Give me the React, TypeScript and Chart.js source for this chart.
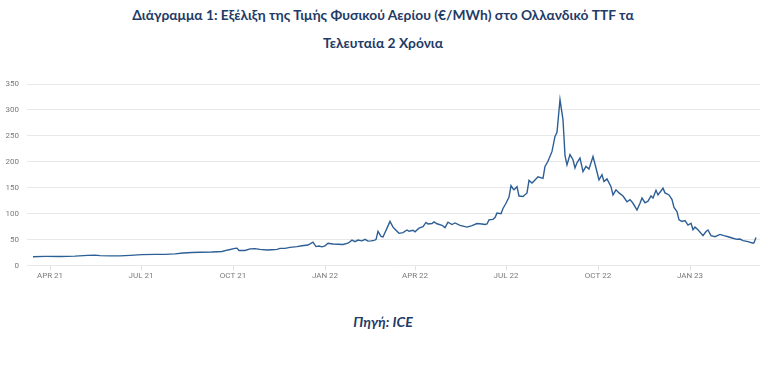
import React, { useEffect, useRef } from "react";
import { Chart, registerables } from "chart.js";

Chart.register(...registerables);

// Days since 2021-04-01 for each observation
const dayOffsets: number[] = [
  -17, -5, 10, 25, 38, 45, 50, 60, 70, 80, 92, 105, 115, 125, 133, 142, 150, 162, 172, 178,
  185, 187, 189, 195, 200, 205, 210, 217, 222, 227, 230, 235, 240, 247, 252, 258, 263, 266, 269, 272,
  275, 278, 283, 288, 293, 298, 302, 305, 308, 312, 315, 318, 321, 324, 326, 328, 331, 333, 337, 340,
  343, 345, 349, 353, 357, 359, 363, 365, 369, 373, 376, 378, 382, 384, 387, 392, 395, 398, 402, 405,
  410, 417, 422, 427, 432, 435, 437, 439, 443, 445, 447, 451, 453, 456, 459, 461, 463, 464, 467, 469,
  473, 477, 479, 482, 485, 488, 493, 495, 498, 502, 505, 507, 510, 513, 515, 517, 520, 523, 525, 527,
  530, 533, 536, 539, 543, 546, 549, 552, 554, 557, 561, 563, 566, 569, 573, 577, 580, 583, 587, 590,
  592, 595, 598, 601, 603, 606, 608, 613, 615, 619, 622, 624, 627, 629, 632, 635, 638, 641, 643, 645,
  648, 653, 656, 658, 661, 665, 670, 674, 678, 683, 687, 690, 693, 698, 703, 704, 706,
];

// TTF price, €/MWh
const prices: number[] = [
  17, 17.5, 17.5, 18, 19.5, 20, 19, 18.5, 18.5, 19.5, 21, 21.5, 21.5, 22.5, 24, 25, 25.5, 26, 27, 30,
  33, 33.5, 29, 29, 32, 32.5, 31, 30, 30.5, 31, 33, 33, 35, 36.5, 38, 39.5, 45, 36.5, 37.5, 36,
  38, 43, 41.5, 41, 40.5, 43, 49, 46, 49, 47.5, 50.5, 47, 47.5, 48.5, 50, 66, 56, 55, 72, 85,
  74, 70, 62, 63.5, 68.5, 66, 68, 65, 72, 75, 83, 80, 81, 84, 80.5, 77.5, 73, 83.5, 79, 82,
  77.5, 74, 77, 81, 80, 79, 80, 88, 89, 92.5, 101, 100, 110, 120, 132, 154, 148, 146, 152, 134,
  133, 140, 164, 159, 165, 171, 168, 191, 201, 220, 249, 257, 320, 281, 212, 194, 214, 204, 188, 198,
  207, 181, 191, 186, 210, 188, 165, 175, 162, 167, 152, 136, 146, 140, 134, 123, 127, 120, 107, 120,
  130, 121, 124, 134, 130, 145, 136, 149, 140, 136, 127, 112, 104, 88, 85, 86.5, 78, 81.5, 69, 74,
  69, 57.5, 65.5, 68.5, 57.5, 55.5, 60, 57.5, 55.5, 52.5, 50.5, 51, 48, 46, 43, 44, 54,
];

const baseDate = "2021-04-01";
const tickDates: string[] = [
  "2021-04-01", "2021-07-01", "2021-10-01", "2022-01-01",
  "2022-04-01", "2022-07-01", "2022-10-01", "2023-01-01",
];
const tickLabels: string[] = ["APR 21", "JUL 21", "OCT 21", "JAN 22", "APR 22", "JUL 22", "OCT 22", "JAN 23"];
const yTicks: number[] = [0, 50, 100, 150, 200, 250, 300, 350];

const titleLine1 = "Διάγραμμα 1: Εξέλιξη της Τιμής Φυσικού Αερίου (€/MWh) στο Ολλανδικό TTF τα";
const titleLine2 = "Τελευταία 2 Χρόνια";
const sourceText = "Πηγή: ICE";

const dayMs = 86400000;
const daysFromBase = (iso: string) =>
  Math.round((Date.parse(iso + "T00:00:00Z") - Date.parse(baseDate + "T00:00:00Z")) / dayMs);

export default function App() {
  const ref = useRef<HTMLCanvasElement | null>(null);

  useEffect(() => {
    if (!ref.current) return;
    const tickDays = tickDates.map(daysFromBase);
    const points = dayOffsets.map((d, i) => ({ x: d, y: prices[i] }));
    const chart = new Chart(ref.current, {
      type: "line",
      data: {
        datasets: [
          {
            data: points,
            borderColor: "#2d5f96",
            borderWidth: 1.4,
            pointRadius: 0,
            tension: 0,
            fill: false,
          },
        ],
      },
      options: {
        animation: false,
        responsive: false,
        maintainAspectRatio: false,
        layout: { padding: { top: 14, right: 6, bottom: 0, left: 0 } },
        plugins: { legend: { display: false }, tooltip: { enabled: false }, title: { display: false } },
        scales: {
          x: {
            type: "linear",
            min: -23,
            max: 710,
            afterBuildTicks: (axis: any) => {
              axis.ticks = tickDays.map((v) => ({ value: v }));
            },
            afterFit: (axis: any) => {
              axis.height = 24.5;
            },
            ticks: {
              autoSkip: false,
              maxRotation: 0,
              padding: 1,
              color: "#7a7a7a",
              font: { family: "Roboto", size: 8 },
              callback: (value: any) => {
                const idx = tickDays.indexOf(Number(value));
                return idx >= 0 ? tickLabels[idx] : "";
              },
            },
            grid: {
              drawOnChartArea: false,
              drawTicks: true,
              tickLength: 5,
              color: "#e3e3e3",
            },
            border: { display: false },
          },
          y: {
            min: 0,
            max: 350,
            afterBuildTicks: (axis: any) => {
              axis.ticks = yTicks.map((v) => ({ value: v }));
            },
            afterFit: (axis: any) => {
              axis.width = 27;
            },
            ticks: {
              padding: 8,
              color: "#7a7a7a",
              font: { family: "Roboto", size: 8 },
            },
            grid: { color: "#e8e8e8", drawTicks: false, lineWidth: 1 },
            border: { display: false },
          },
        },
      },
    });
    return () => chart.destroy();
  }, []);

  return (
    <div style={{ position: "absolute", left: 0, top: 0, width: 766, height: 373, background: "#fff" }}>
      <div
        style={{
          position: "absolute",
          left: 0,
          top: 1,
          width: 766,
          textAlign: "center",
          fontFamily: "Lato, sans-serif",
          fontWeight: 700,
          fontSize: 13.8,
          lineHeight: "28px",
          color: "#1f3b66",
        }}
      >
        <div>{titleLine1}</div>
        <div>{titleLine2}</div>
      </div>
      <canvas
        ref={ref}
        width={766}
        height={220}
        style={{ position: "absolute", left: 0, top: 70, width: 766, height: 220 }}
      />
      <div
        style={{
          position: "absolute",
          left: 0,
          top: 312,
          width: 766,
          textAlign: "center",
          fontFamily: "Lato, sans-serif",
          fontWeight: 700,
          fontStyle: "italic",
          fontSize: 14,
          lineHeight: "20px",
          color: "#1f3b66",
        }}
      >
        {sourceText}
      </div>
    </div>
  );
}
